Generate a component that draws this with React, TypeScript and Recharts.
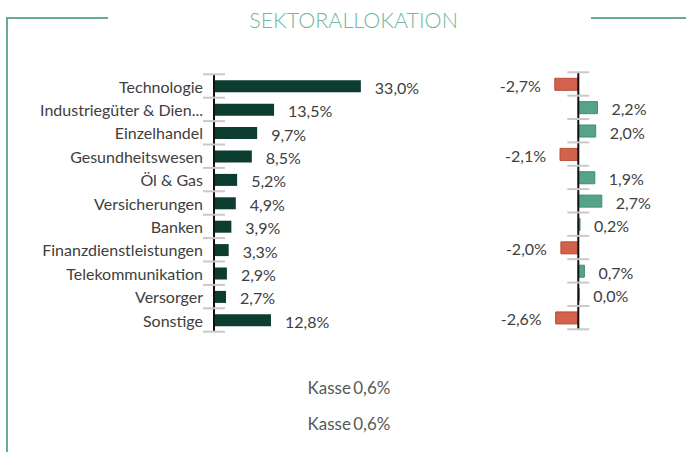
import React from "react";
import { BarChart, Bar, XAxis, YAxis, Cell, LabelList, ReferenceLine } from "recharts";

const sectors = [
  "Technologie",
  "Industriegüter & Dien...",
  "Einzelhandel",
  "Gesundheitswesen",
  "Öl & Gas",
  "Versicherungen",
  "Banken",
  "Finanzdienstleistungen",
  "Telekommunikation",
  "Versorger",
  "Sonstige",
];
const weights = [33.0, 13.5, 9.7, 8.5, 5.2, 4.9, 3.9, 3.3, 2.9, 2.7, 12.8];
const diffs = [-2.7, 2.2, 2.0, -2.1, 1.9, 2.7, 0.2, -2.0, 0.7, 0.0, -2.6];
const title = "SEKTORALLOKATION";
const cashLines = ["Kasse 0,6%", "Kasse 0,6%"];

const leftData = sectors.map((name, i) => ({ name, value: weights[i] }));
const rightData = sectors.map((name, i) => ({ name, value: diffs[i] }));

const W = 686;
const H = 452;
const FONT = "Lato, 'Noto Sans', sans-serif";
const TEXT = "#404040";
const TICK = "#c9c9c9";
const FS = 16;

const fmt = (v: number) => v.toFixed(1).replace(".", ",") + "%";

// Left chart geometry
const L_TOP = 74.3;
const L_BOTTOM = 331.7;
const L_AXIS_X = 214;
const L_MAX = 40;
const L_PX = 4.45;
const L_RIGHT = L_AXIS_X + L_MAX * L_PX;
const L_BAND = (L_BOTTOM - L_TOP) / sectors.length;

// Right chart geometry
const R_TOP = 72.3;
const R_BOTTOM = 329.3;
const R_MIN = -4;
const R_MAX = 4;
const R_PX = 8.7;
const R_ZERO = 578.3;
const R_LEFT = R_ZERO + R_MIN * R_PX;
const R_RIGHT = R_ZERO + R_MAX * R_PX;
const R_BAND = (R_BOTTOM - R_TOP) / sectors.length;

const LeftTick = (props: any) => {
  const { y, payload, index } = props;
  const half = L_BAND / 2;
  const last = index === sectors.length - 1;
  return (
    <g>
      <line x1={L_AXIS_X - 11} x2={L_AXIS_X + 11} y1={y - half} y2={y - half} stroke={TICK} strokeWidth={2} />
      {last && (
        <line x1={L_AXIS_X - 11} x2={L_AXIS_X + 11} y1={y + half} y2={y + half} stroke={TICK} strokeWidth={2} />
      )}
      <text x={L_AXIS_X - 11} y={y} textAnchor="end" dominantBaseline="central" fontSize={FS} fill={TEXT} fontFamily={FONT}>
        {payload.value}
      </text>
    </g>
  );
};

const RightTick = (props: any) => {
  const { y, index } = props;
  const half = R_BAND / 2;
  const last = index === sectors.length - 1;
  return (
    <g>
      <line x1={R_ZERO - 11} x2={R_ZERO + 11} y1={y - half} y2={y - half} stroke={TICK} strokeWidth={2} />
      {last && (
        <line x1={R_ZERO - 11} x2={R_ZERO + 11} y1={y + half} y2={y + half} stroke={TICK} strokeWidth={2} />
      )}
    </g>
  );
};

const LeftLabel = (props: any) => {
  const { x, y, width, height, value } = props;
  return (
    <text x={x + width + 14} y={y + height / 2 + 1} dominantBaseline="central" fontSize={FS} fill={TEXT} fontFamily={FONT}>
      {fmt(value)}
    </text>
  );
};

const RightLabel = (props: any) => {
  const { x, y, width, height, value } = props;
  const lo = Math.min(x, x + width);
  const hi = Math.max(x, x + width);
  const neg = value < 0;
  return (
    <text
      x={neg ? lo - 14 : hi + 14}
      y={y + height / 2 + 1}
      textAnchor={neg ? "end" : "start"}
      dominantBaseline="central"
      fontSize={FS}
      fill={TEXT}
      fontFamily={FONT}
    >
      {fmt(value)}
    </text>
  );
};

export default function App() {
  const lineColor = "#64ad90";
  return (
    <div style={{ position: "absolute", left: 0, top: 0, width: W, height: H, background: "#fff", overflow: "hidden", fontFamily: FONT }}>
      <div style={{ position: "absolute", left: 6, top: 17, width: 102, height: 2, background: lineColor }} />
      <div style={{ position: "absolute", left: 6, top: 17, width: 2, height: H, background: lineColor }} />
      <div style={{ position: "absolute", left: 591, top: 17, width: 100, height: 2, background: lineColor }} />
      <div
        style={{
          position: "absolute",
          left: 0,
          width: 707,
          top: 6,
          textAlign: "center",
          fontSize: 21.5,
          fontWeight: 300,
          color: "#72b89c",
          lineHeight: "28px",
        }}
      >
        {title}
      </div>

      <div style={{ position: "absolute", left: 0, top: 0 }}>
        <BarChart
          width={W}
          height={H}
          data={leftData}
          layout="vertical"
          margin={{ top: L_TOP, bottom: H - L_BOTTOM, left: 0, right: W - L_RIGHT }}
          barCategoryGap={0}
        >
          <XAxis type="number" domain={[0, L_MAX]} hide />
          <YAxis
            type="category"
            dataKey="name"
            width={L_AXIS_X}
            axisLine={{ stroke: "#111", strokeWidth: 2 }}
            tickLine={false}
            tick={<LeftTick />}
            interval={0}
          />
          <Bar dataKey="value" fill="#0b3d30" barSize={12} isAnimationActive={false}>
            <LabelList dataKey="value" content={<LeftLabel />} />
          </Bar>
        </BarChart>
      </div>

      <div style={{ position: "absolute", left: 0, top: 0 }}>
        <BarChart
          width={W}
          height={H}
          data={rightData}
          layout="vertical"
          margin={{ top: R_TOP, bottom: H - R_BOTTOM, left: 0, right: W - R_RIGHT }}
          barCategoryGap={0}
        >
          <XAxis type="number" domain={[R_MIN, R_MAX]} hide />
          <YAxis
            type="category"
            dataKey="name"
            width={R_LEFT}
            axisLine={false}
            tickLine={false}
            tick={<RightTick />}
            interval={0}
          />
          <Bar dataKey="value" barSize={12} minPointSize={1} isAnimationActive={false}>
            {rightData.map((d, i) => (
              <Cell
                key={i}
                fill={d.value < 0 ? "#d2624b" : "#55a488"}
                stroke={d.value < 0 ? "#b54d39" : "#3f8d70"}
                strokeWidth={1}
              />
            ))}
            <LabelList dataKey="value" content={<RightLabel />} />
          </Bar>
          <ReferenceLine x={0} stroke="#111" strokeWidth={2} />
        </BarChart>
      </div>

      {cashLines.map((t, i) => (
        <div
          key={i}
          style={{
            position: "absolute",
            left: 0,
            width: 698,
            top: 376 + i * 36,
            textAlign: "center",
            fontSize: 17,
            fontWeight: 400,
            color: "#595959",
            lineHeight: "24px",
            wordSpacing: "-2px",
          }}
        >
          {t}
        </div>
      ))}
    </div>
  );
}
